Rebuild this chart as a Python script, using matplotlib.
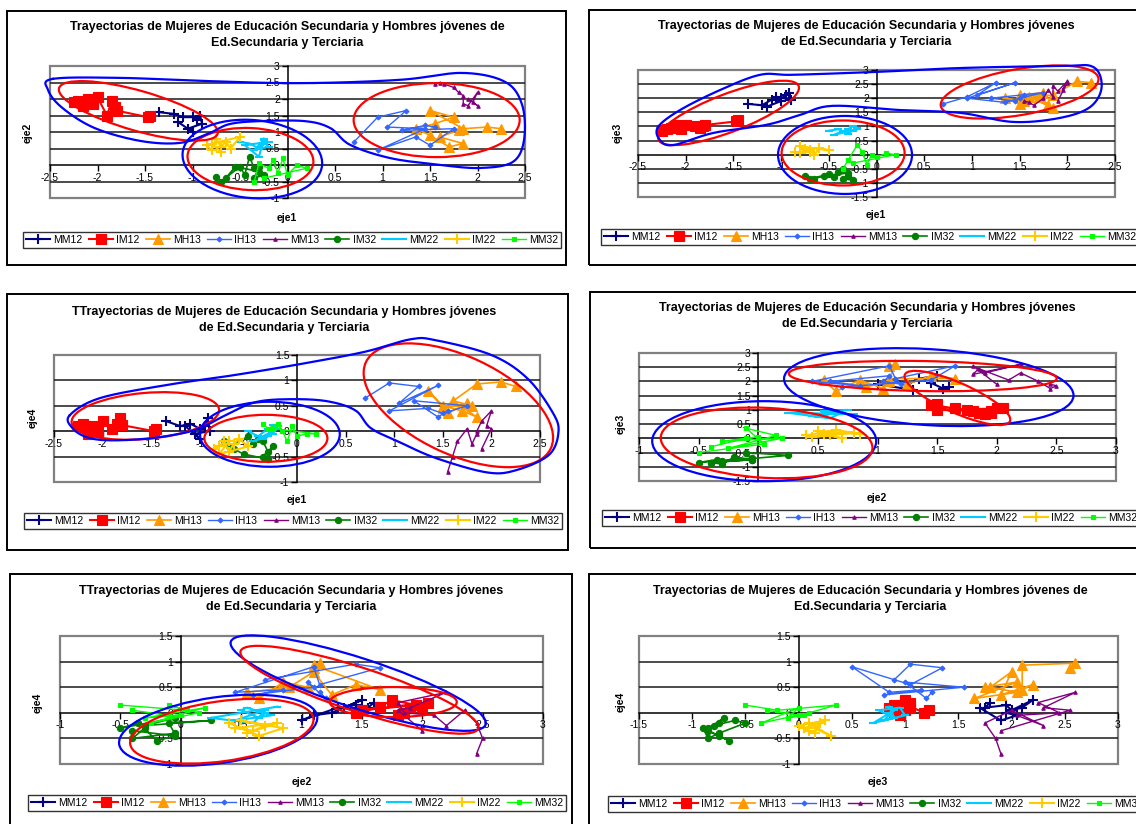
import numpy as np
import matplotlib
matplotlib.use("Agg")
import matplotlib.pyplot as plt
from matplotlib.patches import Ellipse, Rectangle
import matplotlib.transforms as mtransforms
from matplotlib.ticker import MultipleLocator, FuncFormatter

plt.rcParams['font.family'] = ['Liberation Sans', 'DejaVu Sans']

W, H = 1136, 824

# trajectories: each row is one point as (eje1, eje2, eje3, eje4)
mm12 = [(-1.35, 1.60, 1.80, 0.20), (-1.20, 1.55, 1.75, 0.10), (-1.10, 1.45, 1.95, 0.15),
        (-1.00, 1.45, 2.00, 0.05), (-0.95, 1.35, 2.10, 0.10), (-0.92, 1.50, 2.20, 0.25),
        (-0.90, 1.25, 1.95, 0.00), (-1.05, 1.10, 2.05, -0.05), (-1.00, 1.00, 1.90, -0.15),
        (-1.15, 1.30, 1.70, 0.10)]
im12 = [(-1.45, 1.50, 1.22, 0.05), (-1.47, 1.45, 1.18, 0.00), (-1.80, 1.65, 1.05, 0.12),
        (-1.82, 1.75, 1.00, 0.25), (-1.85, 1.95, 0.95, 0.15), (-1.90, 1.50, 1.00, 0.05),
        (-2.00, 2.05, 1.05, 0.20), (-2.05, 1.85, 0.90, 0.00), (-2.10, 2.00, 1.05, 0.10),
        (-2.15, 1.80, 0.95, -0.05), (-2.20, 1.95, 0.90, 0.15), (-2.25, 1.90, 0.85, 0.10)]
mh13 = [(2.25, 1.10, 2.55, 0.88), (2.10, 1.15, 2.60, 0.97), (1.85, 1.10, 2.10, 0.93),
        (1.50, 1.65, 2.10, 0.45), (1.75, 1.45, 2.20, 0.55), (1.55, 1.25, 1.90, 0.35),
        (1.35, 1.10, 2.00, 0.80), (1.50, 0.90, 1.80, 0.50), (1.70, 0.55, 2.05, 0.40),
        (1.85, 0.65, 1.65, 0.28), (1.60, 0.85, 2.05, 0.60), (1.80, 1.05, 1.75, 0.50)]
ih13 = [(0.70, 0.70, 1.80, 0.65), (0.95, 1.45, 2.05, 0.95), (1.25, 1.65, 2.55, 0.88),
        (1.05, 1.15, 2.10, 0.55), (1.45, 1.10, 2.55, 0.90), (0.95, 0.45, 2.00, 0.40),
        (1.35, 0.85, 1.85, 0.45), (1.50, 0.60, 2.00, 0.35), (1.75, 1.10, 2.20, 0.50),
        (1.20, 1.05, 2.00, 0.60), (1.45, 1.20, 1.90, 0.28), (1.55, 1.15, 2.10, 0.40)]
# eje3 of IH13 as plotted in the eje3/eje4 chart
ih13_eje3_b = [0.90, 1.05, 1.35, 1.05, 0.50, 0.85, 1.15, 0.80, 1.55, 1.00, 1.20, 1.25]
mm13 = [(1.55, 2.45, 1.90, -0.80), (1.60, 2.50, 1.85, -0.50), (1.65, 2.45, 1.75, -0.20),
        (1.75, 2.35, 2.00, 0.05), (1.80, 2.20, 2.30, -0.25), (1.85, 2.10, 2.05, -0.05),
        (1.85, 1.85, 2.45, 0.00), (1.90, 1.80, 2.25, 0.20), (2.00, 2.20, 2.60, 0.40),
        (1.95, 1.90, 2.30, 0.10), (2.00, 1.80, 2.55, 0.05), (1.90, 2.00, 1.90, -0.35)]
im32 = [(-0.75, -0.35, -0.75, -0.20), (-0.70, -0.50, -0.85, -0.30), (-0.50, -0.05, -0.70, -0.10),
        (-0.45, -0.30, -0.80, -0.25), (-0.40, 0.25, -0.60, -0.15), (-0.35, -0.10, -0.50, -0.20),
        (-0.30, -0.05, -0.75, -0.40), (-0.35, -0.40, -0.85, -0.50), (-0.25, -0.30, -0.90, -0.30),
        (-0.30, -0.20, -0.65, -0.55), (-0.55, -0.05, -0.75, -0.45), (-0.65, -0.40, -0.85, -0.35)]
mm22 = [(-0.50, 0.70, 0.85, 0.00), (-0.40, 0.65, 0.90, -0.10), (-0.30, 0.50, 0.75, 0.05),
        (-0.20, 0.55, 0.95, 0.10), (-0.25, 0.75, 1.00, -0.05), (-0.35, 0.45, 0.80, -0.15),
        (-0.20, 0.70, 0.90, 0.05), (-0.45, 0.60, 0.70, -0.20), (-0.30, 0.25, 0.90, -0.10),
        (-0.25, 0.80, 0.85, 0.12)]
im22 = [(-0.85, 0.60, 0.10, -0.35), (-0.80, 0.45, 0.05, -0.30), (-0.75, 0.80, 0.20, -0.20),
        (-0.70, 0.55, 0.15, -0.40), (-0.65, 0.70, 0.00, -0.25), (-0.60, 0.50, 0.25, -0.15),
        (-0.50, 0.85, 0.15, -0.30), (-0.80, 0.65, 0.30, -0.45), (-0.70, 0.40, 0.10, -0.20)]
mm32 = [(-0.35, -0.50, -0.50, 0.15), (-0.30, 0.05, -0.20, 0.05), (-0.20, -0.10, 0.35, 0.15),
        (-0.15, 0.15, 0.10, 0.00), (-0.10, -0.25, -0.35, -0.20), (-0.05, 0.20, 0.00, 0.10),
        (0.00, -0.30, -0.10, -0.10), (0.10, 0.00, 0.05, -0.05), (0.20, -0.10, 0.00, -0.05),
        (-0.25, -0.40, -0.30, 0.05)]

names = ['MM12', 'IM12', 'MH13', 'IH13', 'MM13', 'IM32', 'MM22', 'IM22', 'MM32']
series = [mm12, im12, mh13, ih13, mm13, im32, mm22, im22, mm32]
colors = ['#000080', '#FF0000', '#FF9900', '#3366FF', '#800080',
          '#008000', '#00CCFF', '#FFCC00', '#00FF00']
markers = ['+', 's', '^', 'D', '^', 'o', '_', '+', 's']
msizes = [7, 6.5, 6.5, 2.5, 2.5, 4.5, 6, 7, 2.5]
lwidths = [1.5, 1.5, 1.2, 1.0, 1.0, 1.2, 1.5, 1.5, 1.0]

title_a = ["Trayectorias de Mujeres de Educación Secundaria y Hombres jóvenes de",
           "Ed.Secundaria y Terciaria"]
title_b = ["Trayectorias de Mujeres de Educación Secundaria y Hombres jóvenes",
           "de Ed.Secundaria y Terciaria"]
title_c = ["TTrayectorias de Mujeres de Educación Secundaria y Hombres jóvenes",
           "de Ed.Secundaria y Terciaria"]

# layout of the six charts in pixels: plot area (l, r, t, b), frame, title, axis titles, legend
panels = [
    dict(cx=0, cy=1, xlim=(-2.5, 2.5), ylim=(-1, 3), plot=(50, 525, 66, 198),
         frame=(7, 566, 11, 265), title=title_a, tpos=(287, 27), xl=(287, 218), yl=(28, 133), leg=(23, 232)),
    dict(cx=0, cy=2, xlim=(-2.5, 2.5), ylim=(-1.5, 3), plot=(638, 1115, 70, 197),
         frame=(589, 1150, 10, 265), title=title_b, tpos=(866, 26), xl=(876, 215), yl=(618, 133), leg=(601, 229)),
    dict(cx=0, cy=3, xlim=(-2.5, 2.5), ylim=(-1, 1.5), plot=(54, 540, 355, 482),
         frame=(7, 568, 294, 550), title=title_c, tpos=(284, 312), xl=(297, 500), yl=(33, 418), leg=(24, 513)),
    dict(cx=1, cy=2, xlim=(-1, 3), ylim=(-1.5, 3), plot=(639, 1116, 353, 481),
         frame=(590, 1150, 292, 548), title=title_b, tpos=(867, 308), xl=(877, 498), yl=(621, 424), leg=(602, 510)),
    dict(cx=1, cy=3, xlim=(-1, 3), ylim=(-1, 1.5), plot=(60, 543, 636, 764),
         frame=(10, 572, 574, 840), title=title_c, tpos=(291, 591), xl=(302, 782), yl=(38, 703), leg=(28, 795)),
    dict(cx=2, cy=3, xlim=(-1.5, 3), ylim=(-1, 1.5), plot=(639, 1118, 636, 764),
         frame=(589, 1150, 574, 840), title=title_a, tpos=(870, 591), xl=(878, 782), yl=(621, 702), leg=(608, 796)),
]

# hand-drawn groupings: ellipses (centre in data units, size in pixels, angle) and closed outlines
rings = [
    [(-1.57, 1.64, 165, 40, -16, 'r'), (-0.39, 0.18, 126, 62, -3, 'r'), (1.57, 1.36, 166, 74, 0, 'r'),
     (-0.37, 0.18, 140, 78, -5, 'b')],
    [(-1.55, 1.48, 150, 38, 21, 'r'), (-0.35, 0.06, 123, 65, 0, 'r'), (1.50, 2.22, 160, 46, 10, 'r'),
     (-0.33, -0.01, 134, 78, 0, 'b')],
    [(-1.56, 0.30, 148, 46, 5, 'r'), (-0.32, -0.14, 123, 47, 0, 'r'), (1.66, 0.51, 204, 98, -25, 'r'),
     (-0.28, -0.06, 140, 65, 0, 'b')],
    [(1.43, 1.80, 290, 76, -3.5, 'b'), (1.38, 2.19, 268, 30, -1, 'r'), (1.67, 1.42, 115, 30, -24, 'r'),
     (0.05, -0.10, 224, 80, 0, 'b'), (0.07, -0.16, 212, 70, -3, 'r')],
    [(1.47, 0.58, 268, 50, -18, 'b'), (1.48, 0.45, 250, 44, -18, 'r'), (1.76, 0.21, 127, 30, 0, 'r'),
     (0.31, -0.34, 200, 66, 8, 'b'), (0.34, -0.36, 185, 60, 8, 'r')],
    [],
]
outlines = [
    [(-2.47, 2.61), (-1.76, 2.64), (-0.92, 2.55), (0.13, 2.48), (1.18, 2.58), (1.84, 2.79),
     (2.29, 2.52), (2.47, 1.82), (2.49, 0.76), (2.37, 0.09), (2.03, -0.09), (1.61, 0.0),
     (1.08, 0.21), (0.66, 0.61), (0.45, 1.12), (0.18, 1.33), (-0.29, 1.33), (-0.61, 1.24),
     (-0.82, 0.97), (-1.13, 0.67), (-1.55, 0.73), (-2.03, 1.12), (-2.37, 1.73), (-2.52, 2.27)],
    [(-2.29, 0.98), (-2.06, 1.58), (-1.64, 2.29), (-1.22, 2.83), (-0.88, 2.83), (-0.02, 2.93),
     (0.88, 3.07), (1.92, 3.14), (2.27, 3.11), (2.36, 2.40), (2.24, 1.69), (1.92, 1.30),
     (1.43, 1.16), (0.88, 1.48), (0.25, 1.58), (-0.46, 1.73), (-0.80, 1.41), (-1.15, 1.06),
     (-1.71, 0.77), (-2.13, 0.34), (-2.27, 0.52)],
    [(-2.34, 0.31), (-2.03, 0.65), (-1.34, 0.91), (-0.66, 1.10), (0.03, 1.32), (0.69, 1.56),
     (1.17, 1.81), (1.43, 1.79), (2.00, 1.50), (2.37, 1.04), (2.63, 0.37), (2.69, -0.02),
     (2.59, -0.47), (2.25, -0.77), (1.95, -0.81), (1.43, -0.53), (1.06, -0.22), (0.76, 0.06),
     (0.60, 0.41), (0.31, 0.59), (-0.07, 0.63), (-0.43, 0.57), (-0.74, 0.31), (-0.93, 0.12),
     (-1.13, -0.02), (-1.51, -0.14), (-1.92, -0.18), (-2.16, -0.12), (-2.31, 0.06)],
    [], [], [],
]
pen = {'r': '#FF0000', 'b': '#0000FF'}


def closed_curve(pts, n=16):
    # closed Catmull-Rom spline through the control points
    P = np.asarray(pts, dtype=float)
    k = len(P)
    t = np.linspace(0, 1, n, endpoint=False)[:, None]
    segs = []
    for i in range(k):
        p0, p1, p2, p3 = P[(i - 1) % k], P[i], P[(i + 1) % k], P[(i + 2) % k]
        segs.append(0.5 * (2 * p1 + (-p0 + p2) * t + (2 * p0 - 5 * p1 + 4 * p2 - p3) * t ** 2
                           + (-p0 + 3 * p1 - 3 * p2 + p3) * t ** 3))
    out = np.vstack(segs)
    return np.vstack([out, out[:1]])


def fmt(v, pos):
    return '0' if abs(v) < 1e-9 else f'{v:g}'


fig = plt.figure(figsize=(W / 100, H / 100), dpi=100)
fig.patch.set_facecolor('white')

for i, p in enumerate(panels):
    l, r, t, b = p['plot']
    ax = fig.add_axes([l / W, 1 - b / H, (r - l) / W, (b - t) / H])
    ax.set_xlim(*p['xlim'])
    ax.set_ylim(*p['ylim'])
    ax.set_facecolor('white')

    # plot-area border and horizontal gridlines
    ax.add_patch(Rectangle((0, 0), 1, 1, transform=ax.transAxes, fill=False,
                           ec='#808080', lw=1.6, zorder=0.5, clip_on=False))
    for v in np.arange(p['ylim'][0] + 0.5, p['ylim'][1] - 0.25, 0.5):
        if abs(v) > 1e-9:
            ax.axhline(v, color='#1a1a1a', lw=1.1, zorder=0.6)

    for s in ['top', 'right']:
        ax.spines[s].set_visible(False)
    for s in ['left', 'bottom']:
        ax.spines[s].set_position(('data', 0))
        ax.spines[s].set_color('black')
        ax.spines[s].set_linewidth(1.1)
    ax.xaxis.set_major_locator(MultipleLocator(0.5))
    ax.yaxis.set_major_locator(MultipleLocator(0.5))
    ax.xaxis.set_major_formatter(FuncFormatter(fmt))
    ax.yaxis.set_major_formatter(FuncFormatter(fmt))
    ax.tick_params(direction='out', length=4, width=1, labelsize=7.5, pad=1.5, colors='black')

    handles = []
    for k, (name, pts) in enumerate(zip(names, series)):
        arr = np.array(pts)
        xs = arr[:, p['cx']]
        if k == 3 and p['cx'] == 2:
            xs = np.array(ih13_eje3_b)
        ys = arr[:, p['cy']]
        ln, = ax.plot(xs, ys, color=colors[k], lw=lwidths[k], marker=markers[k],
                      ms=msizes[k], mew=1.5 if markers[k] in '+_' else 0.8,
                      mec=colors[k], mfc=colors[k], zorder=3, label=name)
        handles.append(ln)

    for cxd, cyd, w, h, ang, c in rings[i]:
        tr = fig.dpi_scale_trans + mtransforms.ScaledTranslation(cxd, cyd, ax.transData)
        ax.add_patch(Ellipse((0, 0), w / 100, h / 100, angle=ang, transform=tr, fill=False,
                             ec=pen[c], lw=1.6, zorder=5, clip_on=False))
    if outlines[i]:
        cur = closed_curve(outlines[i])
        ax.plot(cur[:, 0], cur[:, 1], color='#0000FF', lw=1.6, zorder=5, clip_on=False)

    # frame around each chart
    x0, x1, y0, y1 = p['frame']
    fig.add_artist(Rectangle((x0 / W, 1 - y1 / H), (x1 - x0) / W, (y1 - y0) / H,
                             transform=fig.transFigure, fill=False, ec='black', lw=1.4))

    tx, ty = p['tpos']
    for j, line in enumerate(p['title']):
        fig.text(tx / W, 1 - (ty + 16 * j) / H, line, ha='center', va='center',
                 fontsize=9, fontweight='bold')
    fig.text(p['xl'][0] / W, 1 - p['xl'][1] / H, ['eje1', 'eje2', 'eje3', 'eje4'][p['cx']],
             ha='center', va='center', fontsize=7.5, fontweight='bold')
    fig.text(p['yl'][0] / W, 1 - p['yl'][1] / H, ['eje1', 'eje2', 'eje3', 'eje4'][p['cy']],
             ha='center', va='center', fontsize=7.5, fontweight='bold', rotation=90)

    lx, ly = p['leg']
    leg = ax.legend(handles, names, loc='upper left', bbox_to_anchor=(lx / W, 1 - ly / H),
                    bbox_transform=fig.transFigure, ncol=9, frameon=True, fancybox=False,
                    edgecolor='black', fontsize=7.5, handlelength=2.3, handletextpad=0.3,
                    columnspacing=0.62, borderpad=0.3, borderaxespad=0)
    leg.get_frame().set_linewidth(1.0)

fig.savefig('out.png', dpi=100, facecolor='white')
